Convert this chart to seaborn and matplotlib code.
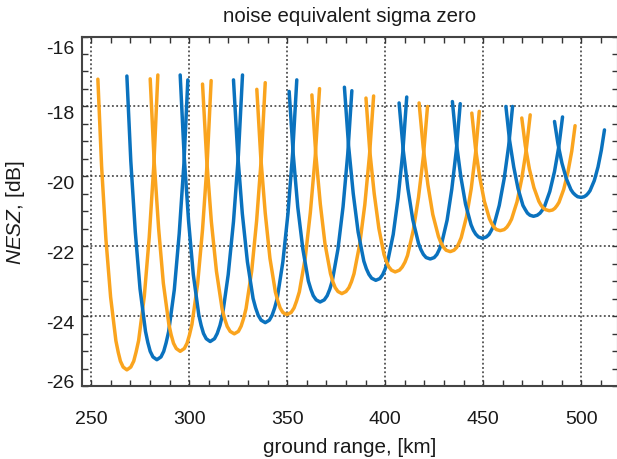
"""NESZ of the subswath beams over ground range."""

import matplotlib

matplotlib.use("Agg")
import matplotlib.pyplot as plt
import matplotlib.transforms as mtransforms
import seaborn as sns
from matplotlib.ticker import MultipleLocator

ORANGE = "#FAA41E"
BLUE = "#0A72BE"

# ground range [km] / NESZ [dB], one list per beam
orange_range = [
    [253.4, 255.3, 257.5, 259.9, 262.6, 263.8, 264.9, 266.3, 268.2, 270.2, 271.7, 272.9, 274.2, 277.1, 279.6, 282.0, 284.0],
    [280.1, 282.1, 284.4, 286.8, 289.6, 290.8, 292.0, 293.4, 295.4, 297.5, 298.9, 300.1, 301.4, 304.3, 306.8, 309.2, 311.2],
    [306.8, 308.9, 311.3, 313.9, 316.8, 318.1, 319.4, 320.9, 323.0, 325.1, 326.5, 327.7, 329.0, 331.9, 334.4, 336.8, 338.8],
    [334.5, 336.5, 338.8, 341.2, 344.0, 345.2, 346.4, 347.8, 349.8, 352.0, 353.5, 354.8, 356.2, 359.2, 361.8, 364.3, 366.5],
    [362.6, 364.6, 366.9, 369.3, 372.1, 373.3, 374.5, 375.9, 377.9, 380.0, 381.5, 382.8, 384.1, 387.0, 389.6, 392.0, 394.1],
    [390.2, 392.1, 394.4, 396.8, 399.4, 400.6, 401.8, 403.2, 405.1, 407.3, 408.7, 410.1, 411.4, 414.3, 417.0, 419.5, 421.6],
    [417.3, 419.4, 421.8, 424.3, 427.2, 428.4, 429.7, 431.1, 433.2, 435.1, 436.5, 437.6, 438.8, 441.5, 443.9, 446.1, 448.0],
    [444.2, 446.1, 448.3, 450.6, 453.2, 454.4, 455.5, 456.8, 458.7, 460.7, 462.1, 463.3, 464.5, 467.3, 469.7, 472.0, 474.0],
    [469.7, 471.5, 473.6, 475.9, 478.4, 479.5, 480.6, 481.9, 483.7, 485.4, 486.6, 487.7, 488.7, 491.1, 493.2, 495.2, 496.9],
]
orange_nesz = [
    [-17.22, -19.71, -21.79, -23.45, -24.70, -25.03, -25.28, -25.45, -25.53, -25.45, -25.28, -25.02, -24.69, -23.42, -21.74, -19.63, -17.10],
    [-17.21, -19.55, -21.49, -23.05, -24.22, -24.53, -24.77, -24.92, -25.00, -24.92, -24.77, -24.54, -24.23, -23.07, -21.52, -19.58, -17.26],
    [-17.36, -19.50, -21.29, -22.71, -23.79, -24.07, -24.29, -24.43, -24.50, -24.43, -24.28, -24.07, -23.78, -22.70, -21.27, -19.47, -17.32],
    [-17.51, -19.44, -21.05, -22.34, -23.31, -23.56, -23.76, -23.89, -23.95, -23.89, -23.76, -23.56, -23.30, -22.33, -21.04, -19.43, -17.49],
    [-17.67, -19.37, -20.79, -21.93, -22.78, -23.01, -23.18, -23.29, -23.35, -23.29, -23.18, -23.01, -22.78, -21.94, -20.81, -19.39, -17.70],
    [-17.76, -19.25, -20.49, -21.49, -22.23, -22.43, -22.58, -22.68, -22.73, -22.68, -22.59, -22.45, -22.26, -21.55, -20.60, -19.42, -18.00],
    [-17.90, -19.17, -20.24, -21.09, -21.72, -21.89, -22.02, -22.11, -22.15, -22.11, -22.03, -21.91, -21.75, -21.15, -20.35, -19.34, -18.14],
    [-18.19, -19.20, -20.04, -20.71, -21.21, -21.35, -21.45, -21.52, -21.55, -21.52, -21.45, -21.35, -21.22, -20.72, -20.06, -19.23, -18.24],
    [-18.33, -19.12, -19.79, -20.32, -20.71, -20.82, -20.90, -20.95, -20.98, -20.96, -20.91, -20.83, -20.74, -20.37, -19.89, -19.28, -18.55],
]
blue_range = [
    [268.2, 270.2, 272.5, 274.9, 277.7, 278.9, 280.1, 281.5, 283.5, 285.6, 287.0, 288.2, 289.5, 292.4, 294.9, 297.3, 299.3],
    [295.4, 297.4, 299.7, 302.1, 304.9, 306.1, 307.3, 308.7, 310.7, 312.9, 314.3, 315.7, 317.0, 319.9, 322.6, 325.1, 327.2],
    [322.6, 324.7, 327.1, 329.7, 332.6, 333.9, 335.2, 336.7, 338.8, 340.9, 342.3, 343.6, 344.9, 347.8, 350.4, 352.8, 354.9],
    [351.0, 353.1, 355.4, 358.0, 360.8, 362.1, 363.3, 364.8, 366.8, 368.9, 370.4, 371.7, 373.0, 375.9, 378.5, 380.9, 383.0],
    [379.2, 381.3, 383.7, 386.2, 389.1, 390.4, 391.7, 393.1, 395.2, 397.3, 398.7, 399.9, 401.2, 404.1, 406.6, 409.0, 411.0],
    [407.1, 409.2, 411.6, 414.1, 417.0, 418.2, 419.5, 420.9, 423.0, 425.0, 426.4, 427.6, 428.8, 431.6, 434.0, 436.3, 438.3],
    [434.3, 436.3, 438.6, 441.0, 443.8, 445.0, 446.2, 447.6, 449.6, 451.6, 453.0, 454.2, 455.5, 458.2, 460.7, 463.0, 465.0],
    [461.6, 463.4, 465.6, 467.8, 470.3, 471.5, 472.6, 473.9, 475.7, 477.6, 479.0, 480.1, 481.3, 484.0, 486.4, 488.6, 490.5],
    [486.4, 488.2, 490.2, 492.4, 494.8, 495.9, 497.0, 498.2, 500.0, 501.5, 502.6, 503.6, 504.5, 506.7, 508.6, 510.3, 511.9],
]
blue_nesz = [
    [-17.13, -19.56, -21.59, -23.21, -24.43, -24.75, -25.00, -25.16, -25.24, -25.16, -25.00, -24.76, -24.44, -23.24, -21.64, -19.64, -17.24],
    [-17.10, -19.39, -21.29, -22.81, -23.96, -24.26, -24.49, -24.64, -24.72, -24.64, -24.49, -24.26, -23.96, -22.81, -21.29, -19.39, -17.10],
    [-17.24, -19.32, -21.06, -22.44, -23.49, -23.76, -23.97, -24.11, -24.18, -24.11, -23.97, -23.76, -23.49, -22.44, -21.06, -19.32, -17.24],
    [-17.57, -19.38, -20.88, -22.08, -22.99, -23.23, -23.41, -23.53, -23.59, -23.53, -23.41, -23.23, -22.99, -22.08, -20.87, -19.36, -17.55],
    [-17.45, -19.11, -20.49, -21.59, -22.42, -22.64, -22.80, -22.91, -22.97, -22.92, -22.81, -22.66, -22.45, -21.66, -20.61, -19.30, -17.73],
    [-17.90, -19.24, -20.35, -21.24, -21.91, -22.09, -22.23, -22.32, -22.36, -22.32, -22.23, -22.09, -21.92, -21.25, -20.36, -19.25, -17.92],
    [-17.86, -19.03, -20.01, -20.79, -21.38, -21.54, -21.65, -21.73, -21.77, -21.73, -21.66, -21.54, -21.39, -20.83, -20.07, -19.13, -18.00],
    [-18.00, -18.94, -19.73, -20.35, -20.83, -20.95, -21.05, -21.11, -21.14, -21.11, -21.05, -20.97, -20.86, -20.43, -19.86, -19.15, -18.30],
    [-18.43, -19.08, -19.62, -20.06, -20.38, -20.47, -20.53, -20.58, -20.60, -20.58, -20.54, -20.48, -20.41, -20.12, -19.73, -19.25, -18.67],
]

sns.set_theme(style="ticks")
plt.rcParams["font.family"] = ["Liberation Sans", "DejaVu Sans"]
plt.rcParams["mathtext.fontset"] = "custom"
plt.rcParams["mathtext.it"] = "Liberation Sans:italic"
plt.rcParams["mathtext.rm"] = "Liberation Sans"
plt.rcParams["axes.unicode_minus"] = False

fig = plt.figure(figsize=(6.17, 4.60), dpi=100)
ax = fig.add_axes([82 / 617, 1 - 387.3 / 460, (618 - 82) / 617, (387.3 - 37.5) / 460])

for i in range(len(orange_range)):
    sns.lineplot(x=orange_range[i], y=orange_nesz[i], sort=False, color=ORANGE,
                 lw=2.5, ax=ax)
    sns.lineplot(x=blue_range[i], y=blue_nesz[i], sort=False, color=BLUE,
                 lw=2.5, ax=ax)

ax.set_xlim(245.3, 518.8)
ax.set_ylim(-26, -16)
ax.xaxis.set_major_locator(MultipleLocator(50))
ax.xaxis.set_minor_locator(MultipleLocator(10))
ax.yaxis.set_major_locator(MultipleLocator(2))
ax.yaxis.set_minor_locator(MultipleLocator(0.5))

ax.grid(True, which="major", color="#333333", linestyle=(0, (1.2, 1.6)), linewidth=1.1)
ax.tick_params(which="both", direction="in", top=True, right=True, length=4.5,
               width=1.0, color="#333333", labelcolor="#1a1a1a", labelsize=14)
ax.tick_params(axis="x", pad=17)
ax.tick_params(axis="y", pad=5.5)
for side in ["left", "top", "bottom", "right"]:
    ax.spines[side].set_linewidth(1.5)
    ax.spines[side].set_color("#444444")

ax.set_title("noise equivalent sigma zero", fontsize=14.7, color="#1a1a1a", y=1.045, pad=0)
ax.set_xlabel("ground range, [km]", fontsize=14.9, color="#1a1a1a")
ax.set_ylabel(r"$\it{NESZ}$, [dB]", fontsize=15, color="#1a1a1a")
ax.xaxis.set_label_coords(0.5, -0.146)
ax.yaxis.set_label_coords(-0.103, 0.5)

# the y labels sit a little low; the end labels are pulled inside the frame
fig.canvas.draw()
for tick in ax.yaxis.get_major_ticks():
    val = tick.get_loc()
    shift = -5
    if abs(val + 16) < 1e-6:
        shift = -10
    elif abs(val + 26) < 1e-6:
        shift = 6
    off = mtransforms.ScaledTranslation(0, shift / 100, fig.dpi_scale_trans)
    tick.label1.set_transform(tick.label1.get_transform() + off)

fig.savefig("out.png", dpi=100)
plt.close(fig)
